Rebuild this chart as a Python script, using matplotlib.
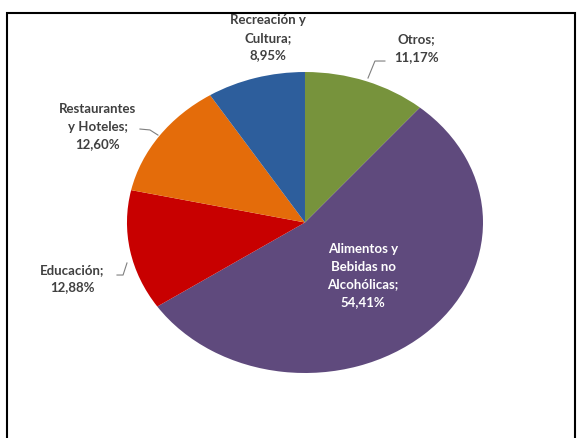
import matplotlib.pyplot as plt
from matplotlib.patches import Rectangle

labels = [
    "Otros",
    "Alimentos y\nBebidas no\nAlcohólicas",
    "Educación",
    "Restaurantes\ny Hoteles",
    "Recreación y\nCultura",
]
shares = [11.17, 54.41, 12.88, 12.60, 8.95]
colors = ["#77933C", "#5F4A7D", "#C80000", "#E46C0A", "#2D5E9C"]

# label centres (pie data units) and layout of each text block
label_pos = [(0.624, 1.160), (0.326, -0.352), (-1.309, -0.372),
             (-1.163, 0.635), (-0.208, 1.226)]
label_text = [
    "Otros;\n{}%",
    "Alimentos y\nBebidas no\nAlcohólicas;\n{}%",
    "Educación;\n{}%",
    "Restaurantes\ny Hoteles;\n{}%",
    "Recreación y\nCultura;\n{}%",
]
label_color = ["#404040", "white", "#404040", "#404040", "#404040"]

# leader lines from the slice edge to the outside labels
leaders = [
    [(0.354, 0.960), (0.393, 1.073), (0.449, 1.073)],
    [(-0.927, 0.621), (-0.871, 0.615), (-0.826, 0.581)],
    [(-1.056, -0.349), (-1.022, -0.349), (-1.0, -0.269)],
]


def fmt(v):
    return f"{v:.2f}".replace(".", ",")


fig = plt.figure(figsize=(5.79, 4.38), dpi=100)
ax = fig.add_axes([0.2193, 0.1484, 0.6149, 0.6872])

ax.pie(shares, colors=colors, startangle=90, counterclock=False,
       wedgeprops={"linewidth": 0})
ax.set_aspect("auto")
ax.set_xlim(-1, 1)
ax.set_ylim(-1, 1)

for txt, val, pos, col in zip(label_text, shares, label_pos, label_color):
    ax.text(pos[0], pos[1], txt.format(fmt(val)), ha="center", va="center",
            multialignment="center", fontsize=9.5, fontweight="bold",
            family=["Lato", "DejaVu Sans"], color=col, linespacing=1.55,
            clip_on=False)

for pts in leaders:
    xs, ys = zip(*pts)
    ax.plot(xs, ys, color="#7F7F7F", lw=0.8, clip_on=False)

# chart frame, open at the bottom edge of the image
fig.add_artist(Rectangle((7 / 579, -0.05), (575 - 7) / 579, 1 - 12.5 / 438 + 0.05,
                         transform=fig.transFigure, fill=False,
                         edgecolor="black", linewidth=1.5))

fig.savefig("out.png", dpi=100)
